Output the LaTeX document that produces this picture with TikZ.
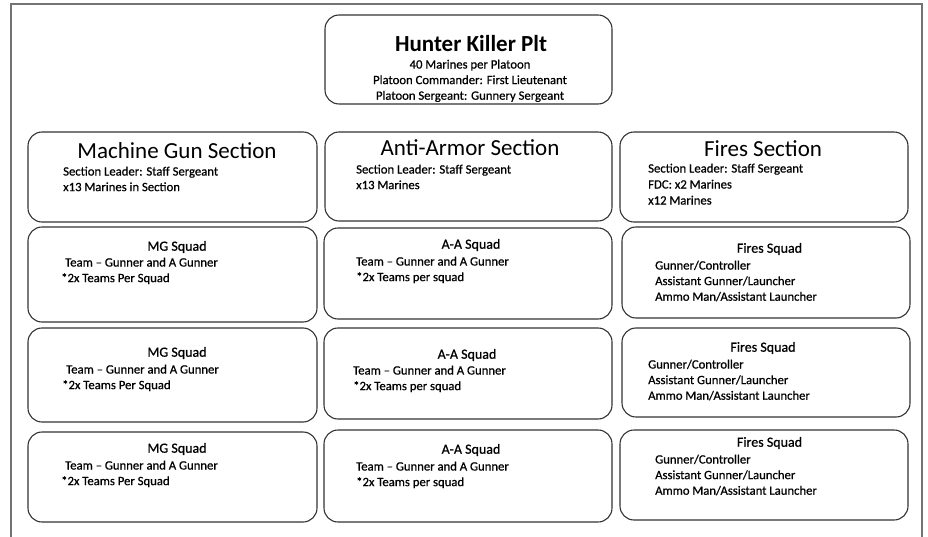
\documentclass[tikz,border=0pt]{standalone}
\usepackage{fontspec}
\setmainfont{Carlito}
\newfontfamily\heavyfont[FakeBold=0.7]{Carlito}
\usetikzlibrary{positioning}

\begin{document}
\begin{tikzpicture}[x=1pt,y=-1pt,
	unit/.style={draw=black!80, line width=1.1pt, rounded corners=14pt, inner sep=0pt},
	sectitle/.style={inner sep=0pt, font=\fontsize{23}{27}\selectfont},
	sqtitle/.style={inner sep=0pt, font=\heavyfont\fontsize{14}{16}\selectfont},
	info/.style={inner sep=0pt, anchor=north west, align=left, font=\heavyfont\fontsize{12.7}{15.6}\selectfont},
	frame/.style={draw=black!55, line width=1.6pt}]
	\useasboundingbox (0,0) rectangle (928,537);
	\draw[frame] (11,537) -- (11,4) -- (922,4) -- (922,537);
	% platoon
	\node[unit, minimum width=287pt, minimum height=89pt] (hk) at (468.5,59.5) {};
	\node[sectitle, font=\fontsize{23}{27}\selectfont\bfseries] (hktitle) at (471,44) {Hunter Killer Plt};
	\node[info, anchor=north, align=center] (hkinfo) at (470,59.5) {40 Marines per Platoon\\Platoon Commander: First Lieutenant\\Platoon Sergeant: Gunnery Sergeant};
	% sections
	\node[unit, minimum width=289pt, minimum height=90pt] (mgsec) at (172.5,177) {};
	\node[sectitle] (mgsectitle) at (177,151) {Machine Gun Section};
	\node[info] (mgsecinfo) at (63,166.5) {Section Leader: Staff Sergeant\\x13 Marines in Section};
	\node[unit, minimum width=287pt, minimum height=89pt] (aasec) at (468.5,176.5) {};
	\node[sectitle] (aasectitle) at (470,148) {Anti-Armor Section};
	\node[info] (aasecinfo) at (356,164.5) {Section Leader: Staff Sergeant\\x13 Marines};
	\node[unit, minimum width=288pt, minimum height=90pt] (firsec) at (764,177) {};
	\node[sectitle] (firsectitle) at (763,149) {Fires Section};
	\node[info, font=\heavyfont\fontsize{12.7}{16}\selectfont] (firsecinfo) at (648,163.5) {Section Leader: Staff Sergeant\\FDC: x2 Marines\\x12 Marines};
	% machine gun squads
	\node[unit, minimum width=289pt, minimum height=95pt] (mg1) at (172.5,274.5) {};
	\node[sqtitle] (mg1title) at (177,247) {MG Squad};
	\node[info] (mg1info) at (61,257.5) {\hspace*{4pt}Team – Gunner and A Gunner\\*2x Teams Per Squad};
	\node[unit, minimum width=289pt, minimum height=94pt] (mg2) at (172.5,375) {};
	\node[sqtitle] (mg2title) at (177,353) {MG Squad};
	\node[info] (mg2info) at (62,364.5) {\hspace*{4pt}Team – Gunner and A Gunner\\*2x Teams Per Squad};
	\node[unit, minimum width=289pt, minimum height=90pt] (mg3) at (172.5,477) {};
	\node[sqtitle] (mg3title) at (177,449) {MG Squad};
	\node[info] (mg3info) at (61,460.5) {\hspace*{4pt}Team – Gunner and A Gunner\\*2x Teams Per Squad};
	% anti-armor squads
	\node[unit, minimum width=288pt, minimum height=91pt] (aa1) at (468,273.5) {};
	\node[sqtitle] (aa1title) at (471,245) {A-A Squad};
	\node[info] (aa1info) at (356,256.5) {Team – Gunner and A Gunner\\*2x Teams per squad};
	\node[unit, minimum width=288pt, minimum height=91pt] (aa2) at (468,373.5) {};
	\node[sqtitle] (aa2title) at (467,355) {A-A Squad};
	\node[info] (aa2info) at (353,365.5) {Team – Gunner and A Gunner\\*2x Teams per squad};
	\node[unit, minimum width=288pt, minimum height=92pt] (aa3) at (468,476) {};
	\node[sqtitle] (aa3title) at (471,450) {A-A Squad};
	\node[info] (aa3info) at (356,461.5) {Team – Gunner and A Gunner\\*2x Teams per squad};
	% fires squads
	\node[unit, minimum width=288pt, minimum height=91pt] (fs1) at (766,272.5) {};
	\node[sqtitle] (fs1title) at (769.5,249) {Fires Squad};
	\node[info] (fs1info) at (655,260.5) {Gunner/Controller\\Assistant Gunner/Launcher\\Ammo Man/Assistant Launcher};
	\node[unit, minimum width=288pt, minimum height=89pt] (fs2) at (766,372.5) {};
	\node[sqtitle] (fs2title) at (763,348) {Fires Squad};
	\node[info] (fs2info) at (648,359.5) {Gunner/Controller\\Assistant Gunner/Launcher\\Ammo Man/Assistant Launcher};
	\node[unit, minimum width=288pt, minimum height=90pt] (fs3) at (764,475) {};
	\node[sqtitle] (fs3title) at (769.5,443) {Fires Squad};
	\node[info] (fs3info) at (655,454.5) {Gunner/Controller\\Assistant Gunner/Launcher\\Ammo Man/Assistant Launcher};
\end{tikzpicture}
\end{document}
